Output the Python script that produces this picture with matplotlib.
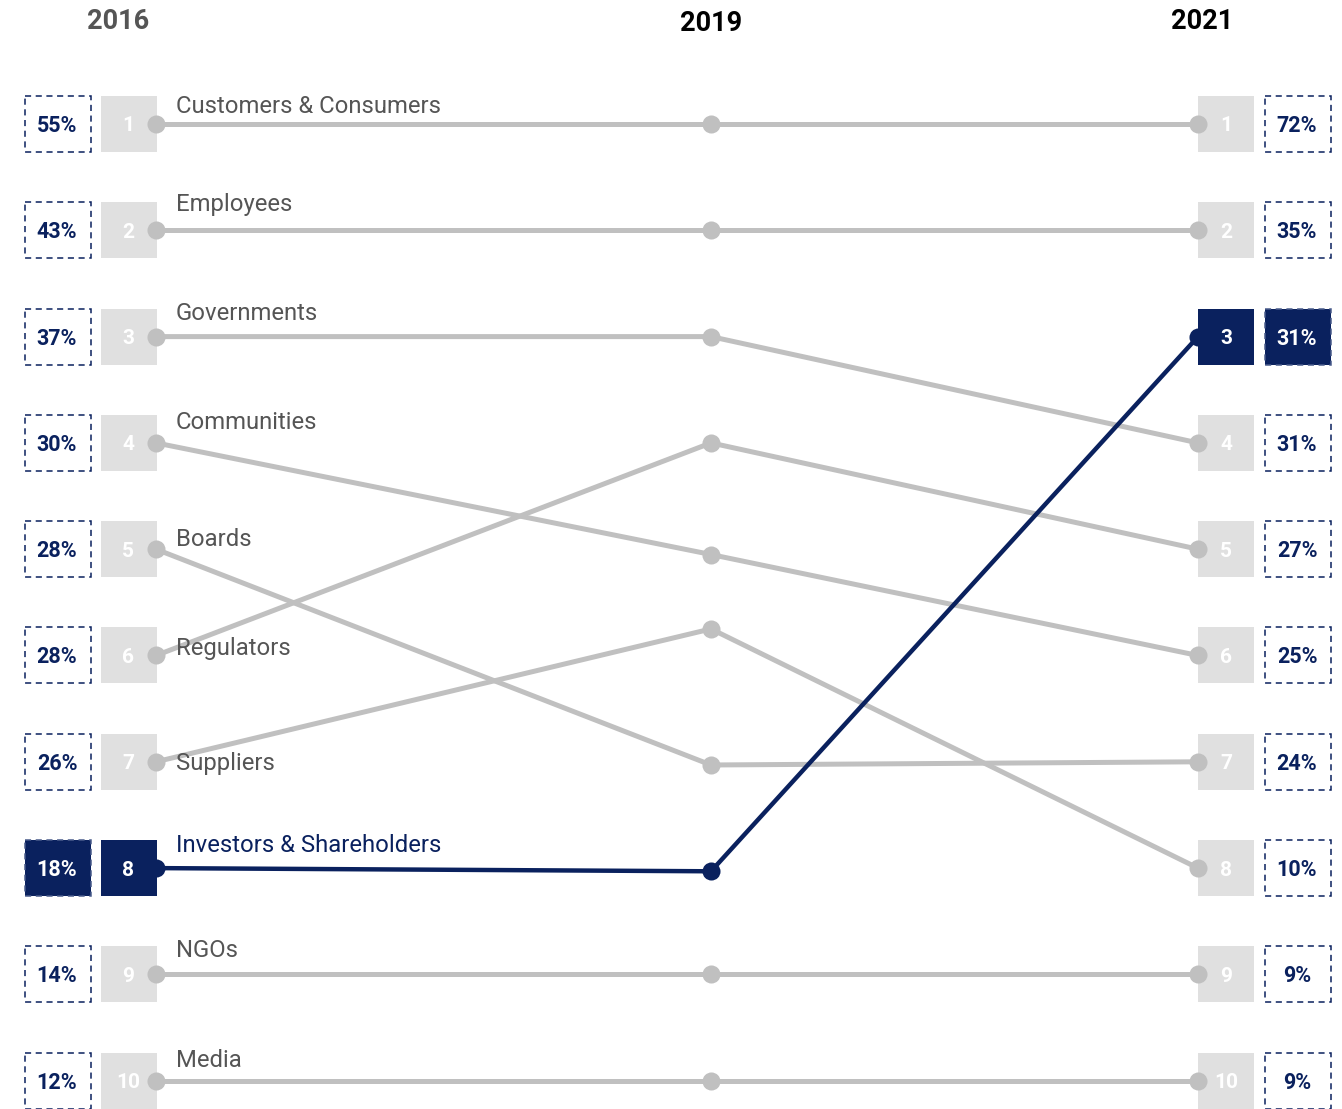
import matplotlib.pyplot as plt
from matplotlib.patches import Rectangle

# Stakeholder ranking data (rank 1 = top)
stakeholders = ["Customers & Consumers", "Employees", "Governments", "Communities",
                "Boards", "Regulators", "Suppliers", "Investors & Shareholders",
                "NGOs", "Media"]
years = ["2016", "2019", "2021"]
rank_2016 = [1, 2, 3, 4, 5, 6, 7, 8, 9, 10]
rank_2019 = [1, 2, 3, 5.05, 7.03, 4, 5.75, 8.03, 9, 10]
rank_2021 = [1, 2, 4, 6, 7, 5, 8, 3, 9, 10]
pct_2016 = [55, 43, 37, 30, 28, 28, 26, 18, 14, 12]
pct_2021 = [72, 35, 31, 25, 24, 27, 10, 31, 9, 9]
highlight = "Investors & Shareholders"

# Styling / layout
NAVY = "#0a215e"
GREY_LINE = "#c0c0c0"
GREY_BOX = "#e0e0e0"
TEXT_GREY = "#555555"
ROW = 106.3  # px per rank
col_x = [156, 711, 1198]
label_dy = [-11, -19, -17, -14, -3, 0, 8, -16, -17, -14]  # px, baseline vs row
num_dy = 2 / ROW  # small downward nudge for box numbers

plt.rcParams['font.family'] = ['Roboto', 'DejaVu Sans']

fig = plt.figure(figsize=(13.42, 11.09), dpi=100)
ax = fig.add_axes([0, 0, 1, 1])
ax.set_xlim(0, 1342)
ax.set_ylim(1 + (1109 - 124) / ROW, 1 - 124 / ROW)
ax.axis("off")

box_h = 56 / ROW

for i, name in enumerate(stakeholders):
    ys = [rank_2016[i], rank_2019[i], rank_2021[i]]
    hi = name == highlight
    color = NAVY if hi else GREY_LINE
    ax.plot(col_x, ys, color=color, lw=3.2 if hi else 3.6, zorder=5 if hi else 3,
            solid_capstyle="round")
    ax.plot(col_x, ys, "o", color=color, ms=13, mec="none", zorder=6 if hi else 4)
    ax.text(176, rank_2016[i] + label_dy[i] / ROW, name, fontsize=17.2,
            color=NAVY if hi else TEXT_GREY, va="baseline", ha="left", zorder=7)

    # left rank box + percentage box
    r = rank_2016[i]
    ax.add_patch(Rectangle((101, r - box_h / 2), 56, box_h,
                           fc=NAVY if hi else GREY_BOX, ec="none", zorder=2))
    ax.text(128, r + num_dy, str(r), fontsize=15, fontweight="bold", color="white",
            ha="center", va="center", zorder=3)
    ax.add_patch(Rectangle((25, r - box_h / 2), 66, box_h,
                           fc=NAVY if hi else "white",
                           ec="#4a5d8c" if hi else NAVY, lw=1.1,
                           ls=(0, (4, 3)), zorder=2))
    ax.text(57, r + num_dy, f"{pct_2016[i]}%", fontsize=15.5, fontweight="bold",
            color="white" if hi else NAVY, ha="center", va="center", zorder=3)

    # right rank box + percentage box
    r = rank_2021[i]
    ax.add_patch(Rectangle((1198, r - box_h / 2), 56, box_h,
                           fc=NAVY if hi else GREY_BOX, ec="none", zorder=2))
    ax.text(1226, r + num_dy, str(r), fontsize=15, fontweight="bold", color="white",
            ha="center", va="center", zorder=3)
    ax.add_patch(Rectangle((1265, r - box_h / 2), 66, box_h,
                           fc=NAVY if hi else "white",
                           ec="#4a5d8c" if hi else NAVY, lw=1.1,
                           ls=(0, (4, 3)), zorder=2))
    ax.text(1297, r + num_dy, f"{pct_2021[i]}%", fontsize=15.5, fontweight="bold",
            color="white" if hi else NAVY, ha="center", va="center", zorder=3)

# year headers
year_x = [118, 711, 1202]
year_y = [22, 24, 22]
year_col = [TEXT_GREY, "black", "black"]
for yr, x, y, c in zip(years, year_x, year_y, year_col):
    ax.text(x, 1 + (y - 124) / ROW, yr, fontsize=19.5, fontweight="bold", color=c,
            ha="center", va="center")

fig.savefig("out.png", dpi=100)
